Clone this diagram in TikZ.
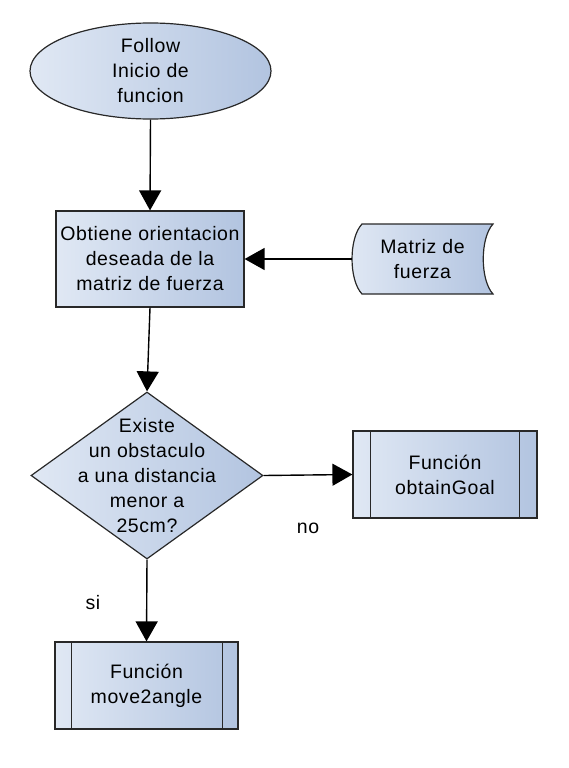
\documentclass[tikz,border=0pt]{standalone}
\usepackage{fontspec}
\setmainfont{Liberation Sans}[LetterSpace=3]
\usetikzlibrary{shapes.geometric,arrows.meta}
\definecolor{gl}{RGB}{224,232,244}
\definecolor{gr}{RGB}{178,196,224}
\definecolor{bd}{RGB}{40,40,40}
\tikzset{
  fillgrad/.style={left color=gl, right color=gr, draw=bd, line width=1.2pt},
  txt/.style={align=center, font=\fontsize{19.5pt}{25pt}\selectfont, inner sep=0pt},
  conn/.style={line width=1.4pt, -{Triangle[length=20pt,width=22pt]}},
  plain/.style={line width=1.4pt},
  predef/.style={rectangle, fillgrad, minimum width=184pt, minimum height=87pt, inner sep=0pt},
}
\begin{document}
\begin{tikzpicture}[x=1pt,y=-1pt]
\useasboundingbox (0,0) rectangle (568,768);
% start ellipse
\node[ellipse, fillgrad, txt, minimum width=241pt, minimum height=96pt] (start) at (150.5,71) {Follow\\Inicio de\\funcion};
% process rectangle
\node[rectangle, fillgrad, txt, minimum width=188pt, minimum height=96pt] (proc) at (150,259) {Obtiene orientacion\\deseada de la\\matriz de fuerza};
% data shape (stored data)
\draw[fillgrad] (362,224) -- (493,224) .. controls (480,238) and (480,280) .. (493,294) -- (362,294) .. controls (348.7,280) and (348.7,238) .. (362,224) -- cycle;
\node[rectangle, minimum width=141pt, minimum height=70pt, txt] (matriz) at (422.5,259) {Matriz de\\fuerza};
% decision diamond
\node[diamond, fillgrad, minimum width=232pt, minimum height=167pt, inner sep=0pt] (dec) at (147,475.5) {};
\node[txt] (dect) at (dec.center) {Existe\\un obstaculo\\a una distancia\\menor a\\25cm?};
% predefined process boxes
\node[predef] (goal) at (445,474.5) {};
\draw[line width=1.2pt, draw=bd] ([xshift=18pt]goal.north west) -- ([xshift=18pt]goal.south west);
\draw[line width=1.2pt, draw=bd] ([xshift=-18pt]goal.north east) -- ([xshift=-18pt]goal.south east);
\node[txt] (goalt) at (goal.center) {Función\\obtainGoal};
\node[predef, minimum width=183pt] (move) at (146.5,685.5) {};
\draw[line width=1.2pt, draw=bd] ([xshift=17pt]move.north west) -- ([xshift=17pt]move.south west);
\draw[line width=1.2pt, draw=bd] ([xshift=-16pt]move.north east) -- ([xshift=-16pt]move.south east);
\node[txt] (movet) at (move.center) {Función\\move2angle};
% connectors
\draw[conn] (start.south) -- (proc.north);
\draw[conn] (matriz.west) -- (proc.east);
\draw[conn] (proc.south) -- (dec.north);
\draw[conn] (dec.east) -- (goal.west);
\draw[conn] (dec.south) -- (move.north);
% labels
\node[txt] (si) at (93,603) {si};
\node[txt] (no) at (308,528) {no};
\end{tikzpicture}
\end{document}
